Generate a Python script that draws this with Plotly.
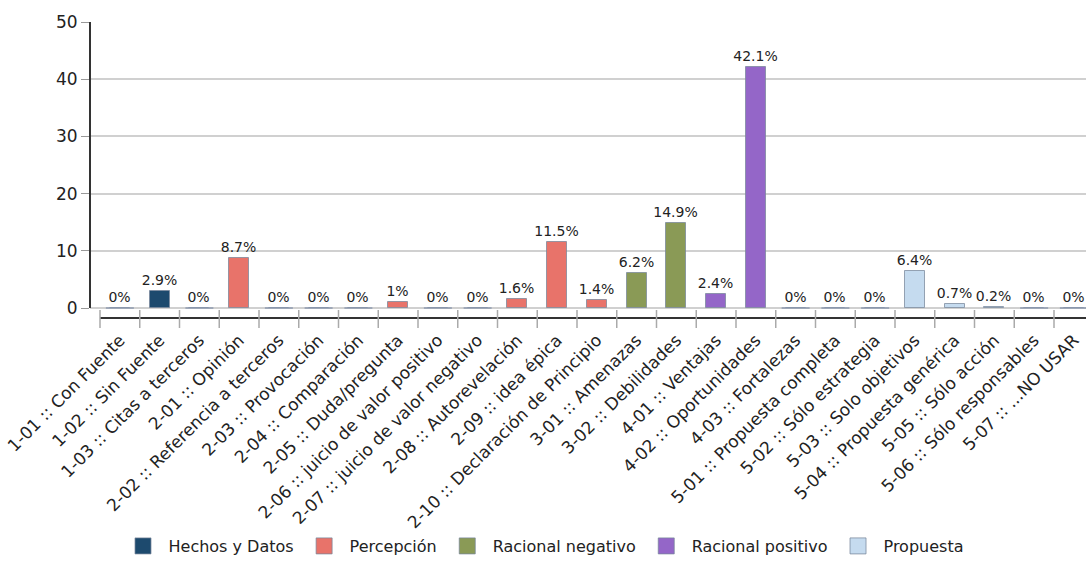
import plotly.graph_objects as go

categories = [
    "1-01 :: Con Fuente", "1-02 :: Sin Fuente", "1-03 :: Citas a terceros",
    "2-01 :: Opinión", "2-02 :: Referencia a terceros", "2-03 :: Provocación",
    "2-04 :: Comparación", "2-05 :: Duda/pregunta", "2-06 :: juicio de valor positivo",
    "2-07 :: juicio de valor negativo", "2-08 :: Autorevelación", "2-09 :: idea épica",
    "2-10 :: Declaración de Principio", "3-01 :: Amenazas", "3-02 :: Debilidades",
    "4-01 :: Ventajas", "4-02 :: Oportunidades", "4-03 :: Fortalezas",
    "5-01 :: Propuesta completa", "5-02 :: Sólo estrategia", "5-03 :: Solo objetivos",
    "5-04 :: Propuesta genérica", "5-05 :: Sólo acción", "5-06 :: Sólo responsables",
    "5-07 :: ...NO USAR",
]
values = [0, 2.9, 0, 8.7, 0, 0, 0, 1, 0, 0, 1.6, 11.5, 1.4, 6.2, 14.9,
          2.4, 42.1, 0, 0, 0, 6.4, 0.7, 0.2, 0, 0]
groups = (["Hechos y Datos"] * 3 + ["Percepción"] * 10 + ["Racional negativo"] * 2
          + ["Racional positivo"] * 3 + ["Propuesta"] * 7)
group_names = ["Hechos y Datos", "Percepción", "Racional negativo", "Racional positivo", "Propuesta"]
group_colors = ["#1d4a6e", "#e8736a", "#8a9a56", "#9466c8", "#c5dbef"]
y_ticks = [0, 10, 20, 30, 40, 50]

FONT = "DejaVu Sans"
OUTLINE = "rgba(120,135,155,0.75)"
fig = go.Figure()
for name, color in zip(group_names, group_colors):
    idx = [i for i, g in enumerate(groups) if g == name]
    fig.add_trace(go.Bar(
        x=idx, y=[values[i] for i in idx], name=name, width=0.5, showlegend=False,
        marker=dict(color=color, line=dict(color=OUTLINE, width=1)),
        text=[f"{values[i]:g}%" for i in idx], textposition="outside",
        constraintext="none",
        textfont=dict(family=FONT, size=14, color="#222"), cliponaxis=False,
    ))
    # legend entry
    fig.add_trace(go.Scatter(
        x=[None], y=[None], mode="markers", name=name,
        marker=dict(symbol="square", size=16, color=color, line=dict(color=OUTLINE, width=1)),
    ))

# thin baseline marks for zero-valued categories
zero_idx = [i for i, v in enumerate(values) if v == 0]
fig.add_trace(go.Scatter(
    x=zero_idx, y=[0] * len(zero_idx), mode="markers", showlegend=False, hoverinfo="skip",
    marker=dict(symbol="line-ew", size=20, color="#8f9bb0",
                line=dict(color="#8f9bb0", width=1.5)),
    cliponaxis=False,
))

n = len(categories)
x0 = -0.5 - 10 / 39.75
x1 = x0 + 996 / 39.75

shapes = [
    dict(type="line", xref="paper", yref="y", x0=0, x1=0, y0=0, y1=50,
         line=dict(color="#333", width=2)),
    dict(type="line", xref="x", yref="paper", x0=-0.5, x1=n - 0.5, y0=0, y1=0,
         line=dict(color="#333", width=2)),
]
for b in range(n):
    shapes.append(dict(type="line", xref="x", yref="paper", x0=b - 0.5, x1=b - 0.5,
                       y0=-10 / 296, y1=8 / 296, line=dict(color="#aaa", width=1.5)))

fig.update_layout(
    width=1086, height=563,
    margin=dict(l=90, r=0, t=22, b=245),
    plot_bgcolor="white", paper_bgcolor="white",
    barmode="overlay",
    font=dict(family=FONT, color="#222"),
    shapes=shapes,
    xaxis=dict(range=[x0, x1], tickmode="array", tickvals=list(range(n)),
               ticktext=categories, tickangle=-45, showgrid=False, zeroline=False,
               showline=False, ticks="", ticklabelstandoff=8, automargin=False,
               ticklabeloverflow="allow",
               tickfont=dict(family=FONT, size=17, color="#222")),
    yaxis=dict(range=[-10 / 5.72, 50], tickmode="array", tickvals=y_ticks,
               showgrid=True, gridcolor="#d0d0d0", gridwidth=2, zeroline=False,
               showline=False, ticks="outside", ticklen=8, tickcolor="#999",
               automargin=False,
               tickfont=dict(family=FONT, size=17, color="#222")),
    legend=dict(orientation="h", xref="container", yref="container", x=0.5, y=0.0,
                xanchor="center", yanchor="bottom", font=dict(family=FONT, size=16),
                itemsizing="trace", itemwidth=41),
    bargap=0,
)
fig.write_html("out.html")
